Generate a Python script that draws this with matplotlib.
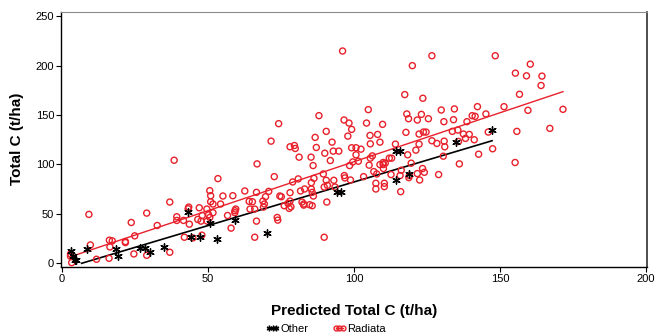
import numpy as np
import matplotlib.pyplot as plt
from matplotlib.lines import Line2D

plt.rcParams['font.family'] = ['Liberation Sans', 'DejaVu Sans']

# Radiata plots (predicted, observed)
radiata_x = [96.1, 126.7, 148.4, 120.0, 160.4, 155.3, 159.1, 164.4, 164.1, 156.7,
             117.4, 123.6, 151.4, 142.3, 171.6, 134.4, 129.9, 104.9, 159.6, 88.0,
             118.1, 123.1, 140.5, 141.5, 145.2, 118.7, 125.5, 121.7, 134.1, 96.6,
             130.8, 138.7, 98.3, 104.3, 74.2, 109.8, 167.1, 90.5, 117.8, 123.8,
             124.7, 155.8, 133.7, 135.6, 146.0, 137.5, 99.2, 122.3, 108.1, 97.9,
             105.5, 86.7, 139.5, 138.2, 71.6, 92.5, 108.9, 126.7, 130.9, 135.8,
             141.2, 114.2, 122.3, 105.6, 78.1, 79.6, 79.9, 87.1, 99.2, 100.7,
             102.4, 128.4, 131.1, 147.5, 121.2, 94.8, 92.9, 90.0, 100.7, 106.3,
             105.6, 142.7, 118.4, 112.1, 112.9, 85.3, 81.2, 155.2, 136.1, 66.8,
             38.4, 91.9, 99.6, 101.5, 110.0, 110.7, 119.6, 130.6, 86.0, 98.5,
             105.2, 108.9, 110.0, 110.1, 106.8, 123.5, 124.1, 116.2, 121.7, 129.0,
             72.7, 103.3, 112.7, 115.8, 119.0, 89.5, 96.7, 96.9, 107.8, 118.8,
             122.5, 80.9, 79.0, 86.3, 90.5, 90.9, 93.1, 98.8, 85.4, 107.5,
             107.5, 110.4, 110.4, 116.0, 89.8, 93.5, 89.8, 90.7, 83.1, 85.4,
             85.7, 86.1, 81.7, 78.1, 70.8, 66.6, 62.6, 58.5, 69.7, 74.6,
             75.1, 55.1, 50.6, 50.9, 50.9, 36.9, 53.4, 65.2, 78.1, 77.4,
             82.2, 68.8, 64.1, 69.3, 54.3, 51.7, 82.8, 84.8, 85.7, 82.8,
             76.1, 78.4, 77.8, 69.0, 64.4, 66.0, 59.5, 59.2, 59.2, 49.6,
             47.0, 43.2, 43.4, 29.0, 9.2, 51.7, 50.2, 48.0, 56.7, 39.3,
             39.3, 41.6, 46.5, 47.6, 49.7, 43.6, 50.6, 73.7, 73.9, 66.6,
             23.7, 32.6, 57.9, 47.9, 41.9, 44.8, 66.0, 24.9, 9.7, 16.2,
             17.2, 21.7, 21.7, 16.4, 2.9, 2.9, 3.3, 11.8, 16.1, 24.6,
             29.0, 36.9]
radiata_y = [214.8, 210.0, 210.0, 200.0, 201.5, 192.4, 189.7, 189.4, 179.9, 171.0,
             170.7, 167.0, 158.5, 158.5, 155.8, 156.2, 155.1, 155.5, 154.8, 149.4,
             151.1, 150.7, 149.4, 148.7, 151.1, 146.3, 146.3, 145.0, 145.3, 145.0,
             143.3, 143.3, 141.9, 141.9, 141.3, 140.6, 136.5, 133.5, 132.5, 132.8,
             132.8, 133.5, 133.5, 134.8, 132.8, 130.8, 135.5, 130.8, 130.4, 128.7,
             129.4, 127.4, 130.4, 126.4, 123.6, 122.6, 122.6, 124.0, 123.6, 123.3,
             125.0, 120.6, 120.6, 120.9, 117.9, 119.2, 116.2, 117.2, 116.9, 116.9,
             115.5, 121.3, 117.9, 115.9, 114.5, 113.5, 113.5, 111.4, 109.8, 108.7,
             106.4, 110.4, 109.8, 106.4, 106.4, 107.4, 107.4, 102.0, 100.6, 100.6,
             104.3, 104.0, 102.6, 103.3, 102.0, 101.3, 101.3, 108.4, 98.9, 98.9,
             99.3, 99.9, 99.9, 95.9, 92.8, 95.9, 92.1, 94.2, 90.8, 89.8,
             87.7, 87.7, 89.8, 88.8, 88.8, 90.4, 88.8, 86.4, 90.4, 86.7,
             84.3, 85.4, 82.3, 86.0, 84.0, 78.9, 84.0, 84.3, 81.6, 81.0,
             75.2, 81.0, 77.6, 72.5, 77.2, 77.2, 26.4, 62.0, 75.2, 75.2,
             71.8, 68.1, 73.2, 71.5, 72.8, 71.8, 73.2, 68.4, 67.4, 68.1,
             67.4, 68.1, 73.5, 68.4, 62.3, 62.0, 85.7, 62.3, 63.0, 60.6,
             62.0, 63.0, 62.7, 60.0, 60.0, 60.0, 58.9, 59.3, 58.3, 60.0,
             58.3, 57.2, 55.6, 56.9, 54.9, 54.9, 54.9, 53.2, 51.2, 54.9,
             56.2, 55.2, 56.9, 50.8, 49.5, 51.2, 49.1, 48.4, 48.4, 47.1,
             43.4, 43.4, 44.4, 42.7, 42.7, 39.6, 46.4, 46.4, 43.7, 42.7,
             41.3, 38.3, 35.6, 28.5, 26.4, 25.7, 26.4, 27.8, 18.6, 23.4,
             22.7, 22.0, 21.0, 16.6, 9.5, 7.1, 0.7, 4.1, 5.1, 9.5,
             8.1, 11.2]

# Other species
other_x = [2.9, 3.6, 4.9, 4.4, 8.4, 18.6, 19.3, 26.8, 28.4, 30.2, 34.9, 43.1, 44.1,
           47.1, 50.6, 53.1, 59.3, 70.3, 94.1, 95.4, 114.3, 115.9, 114.3, 119.0,
           135.0, 147.3]
other_y = [12.9, 7.1, 3.0, 3.4, 14.6, 14.2, 7.5, 15.6, 15.2, 11.2, 16.3, 51.5, 26.4,
           26.4, 40.3, 24.4, 43.4, 30.5, 71.8, 71.8, 113.8, 113.8, 84.0, 90.8,
           122.3, 134.5]

# fitted lines: intercept, slope, x range
radiata_fit = [3.8, 0.99]
radiata_range = [2.6, 171.6]
other_fit = [-5.9, 0.882]
other_range = [6.7, 147.3]

fig = plt.figure(figsize=(6.65, 3.36), dpi=100)
ax = fig.add_axes([0.092, 0.206, 0.881, 0.759])

red = '#e8202a'
ax.scatter(radiata_x, radiata_y, s=19, facecolors='none', edgecolors=red, linewidths=1.0, zorder=3)
ax.scatter(other_x, other_y, s=28, marker=(6, 2, 0), color='black', linewidths=1.0, zorder=4)

xr = np.array(radiata_range)
ax.plot(xr, radiata_fit[0] + radiata_fit[1] * xr, color=red, lw=1.0, zorder=2)
xo = np.array(other_range)
ax.plot(xo, other_fit[0] + other_fit[1] * xo, color='black', lw=1.2, zorder=2)

ax.set_xlim(-0.3, 200.4)
ax.set_ylim(-3.5, 254.5)
ax.set_xticks([0, 50, 100, 150, 200])
ax.set_yticks([0, 50, 100, 150, 200, 250])
ax.tick_params(labelsize=8, length=3.5, width=0.8, pad=1.5)

for s in ['left', 'bottom']:
    ax.spines[s].set_linewidth(1.0)
ax.spines['top'].set_color('#8a8a8a')
ax.spines['right'].set_color('#303030')
ax.spines['right'].set_linewidth(1.2)

ax.set_xlabel('Predicted Total C (t/ha)', fontsize=11, fontweight='bold', va='center')
ax.xaxis.set_label_coords(0.5, -0.174)
ax.set_ylabel('Total C (t/ha)', fontsize=11, fontweight='bold', va='center')
ax.yaxis.set_label_coords(-0.075, 0.5)

handles = [Line2D([], [], color='black', marker=(6, 2, 0), markersize=4, lw=1.0),
           Line2D([], [], color=red, marker='o', markersize=3.5, mfc='none', lw=1.0)]
fig.legend(handles, ['Other', 'Radiata'], loc='center', bbox_to_anchor=(0.49, 0.02),
           ncol=2, frameon=False, fontsize=8, handlelength=1.2, handletextpad=0.1,
           columnspacing=2.2, numpoints=3)

fig.savefig('out.png', dpi=100)
